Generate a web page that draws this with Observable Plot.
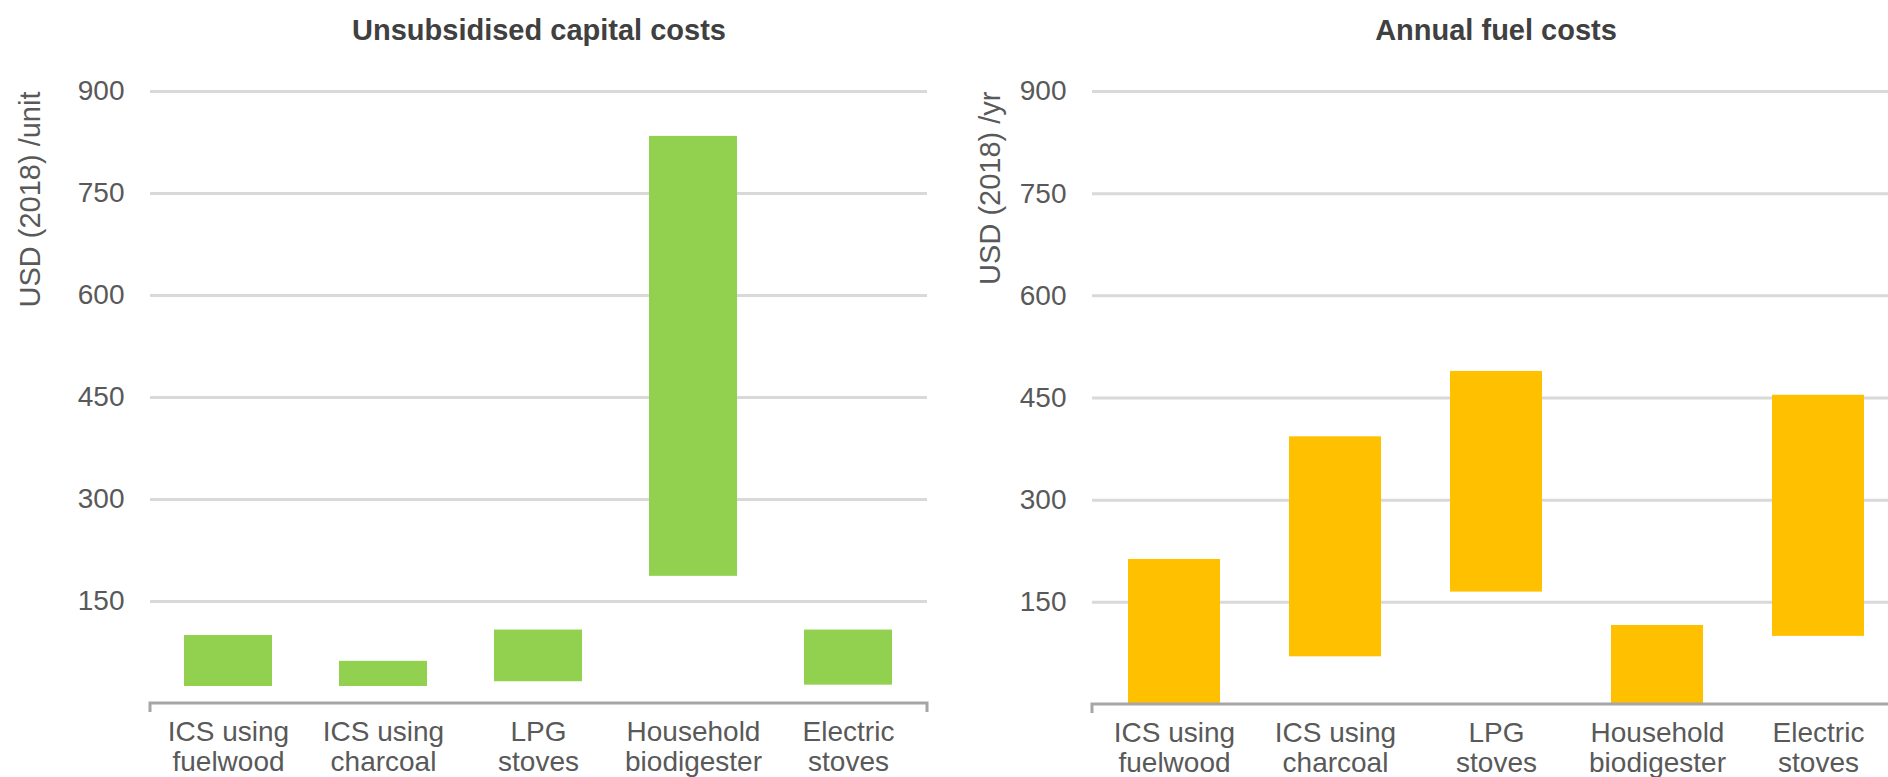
<!DOCTYPE html>
<html><head><meta charset="utf-8">
<script src="https://cdn.jsdelivr.net/npm/d3@7"></script>
<script src="https://cdn.jsdelivr.net/npm/@observablehq/plot@0.6"></script>
<style>
html,body{margin:0;padding:0;background:#fff;overflow:hidden;}
#wrap{position:relative;width:1888px;height:777px;overflow:hidden;background:#fff;}
#left{position:absolute;left:0;top:0;width:944px;}
#right{position:absolute;left:944px;top:0;width:955px;}
#wrap svg{max-width:none !important;}
</style></head><body><div id="wrap"><div id="left"></div><div id="right"></div></div>
<script>
const categories = ["ICS using fuelwood", "ICS using charcoal", "LPG stoves", "Household biodigester", "Electric stoves"];
const categoryLabels = ["ICS using\nfuelwood", "ICS using\ncharcoal", "LPG\nstoves", "Household\nbiodigester", "Electric\nstoves"];
const capitalLow = [25, 25, 32, 187, 27];
const capitalHigh = [100, 62, 108, 834, 108];
const fuelLow = [0, 70, 165, 0, 100];
const fuelHigh = [213, 393, 489, 116, 454];
const yTicks = [150, 300, 450, 600, 750, 900];
const panelTitles = ["Unsubsidised capital costs", "Annual fuel costs"];
const yLabels = ["USD (2018) /unit", "USD (2018) /yr"];
const colors = ["#92D050", "#FFC000"];

function axisLine(index, scales, values, dims) {
  const x0 = dims.marginLeft, x1 = dims.width - dims.marginRight, y = scales.y(0);
  const p = document.createElementNS("http://www.w3.org/2000/svg", "path");
  p.setAttribute("d", `M${x0},${y + 9}V${y}H${x1}V${y + 9}`);
  p.setAttribute("fill", "none");
  p.setAttribute("stroke", "#a6a6a6");
  p.setAttribute("stroke-width", "3");
  return p;
}

function panel({low, high, fill, title, ylabel, width, marginLeft, marginRight, marginBottom, labelDx}) {
  const data = categories.map((c, i) => ({cat: c, label: categoryLabels[i], lo: low[i], hi: high[i]}));
  return Plot.plot({
    width, height: 777, marginLeft, marginRight, marginTop: 91, marginBottom,
    style: {fontFamily: "'Liberation Sans', Arial, sans-serif", background: "transparent", overflow: "visible", maxWidth: "none"},
    x: {domain: categories, paddingInner: 0.43, paddingOuter: 0.215, axis: null},
    y: {domain: [0, 900], axis: null, label: null},
    marks: [
      Plot.gridY(yTicks, {stroke: "#d9d9d9", strokeWidth: 3, strokeOpacity: 1}),
      Plot.axisY(yTicks, {tickSize: 0, tickPadding: 26, fontSize: 28, color: "#595959", label: null}),
      Plot.barY(data, {x: "cat", y1: "lo", y2: "hi", fill}),
      axisLine,
      Plot.text(data, {x: "cat", text: "label", frameAnchor: "bottom", dy: 16, lineAnchor: "top", lineHeight: 1.07, fontSize: 28, fill: "#595959"}),
      Plot.text([title], {frameAnchor: "top", dy: -72, fontSize: 29, fontWeight: "bold", fill: "#404040"}),
      Plot.text([ylabel], {frameAnchor: "top-left", dx: labelDx, rotate: -90, textAnchor: "end", fontSize: 29, fill: "#595959"})
    ]
  });
}

document.getElementById("left").append(panel({
  low: capitalLow, high: capitalHigh, fill: colors[0], title: panelTitles[0], ylabel: yLabels[0],
  width: 944, marginLeft: 150, marginRight: 17, marginBottom: 74, labelDx: -131
}));
document.getElementById("right").append(panel({
  low: fuelLow, high: fuelHigh, fill: colors[1], title: panelTitles[1], ylabel: yLabels[1],
  width: 955, marginLeft: 148, marginRight: 0, marginBottom: 73, labelDx: -113
}));
</script></body></html>
